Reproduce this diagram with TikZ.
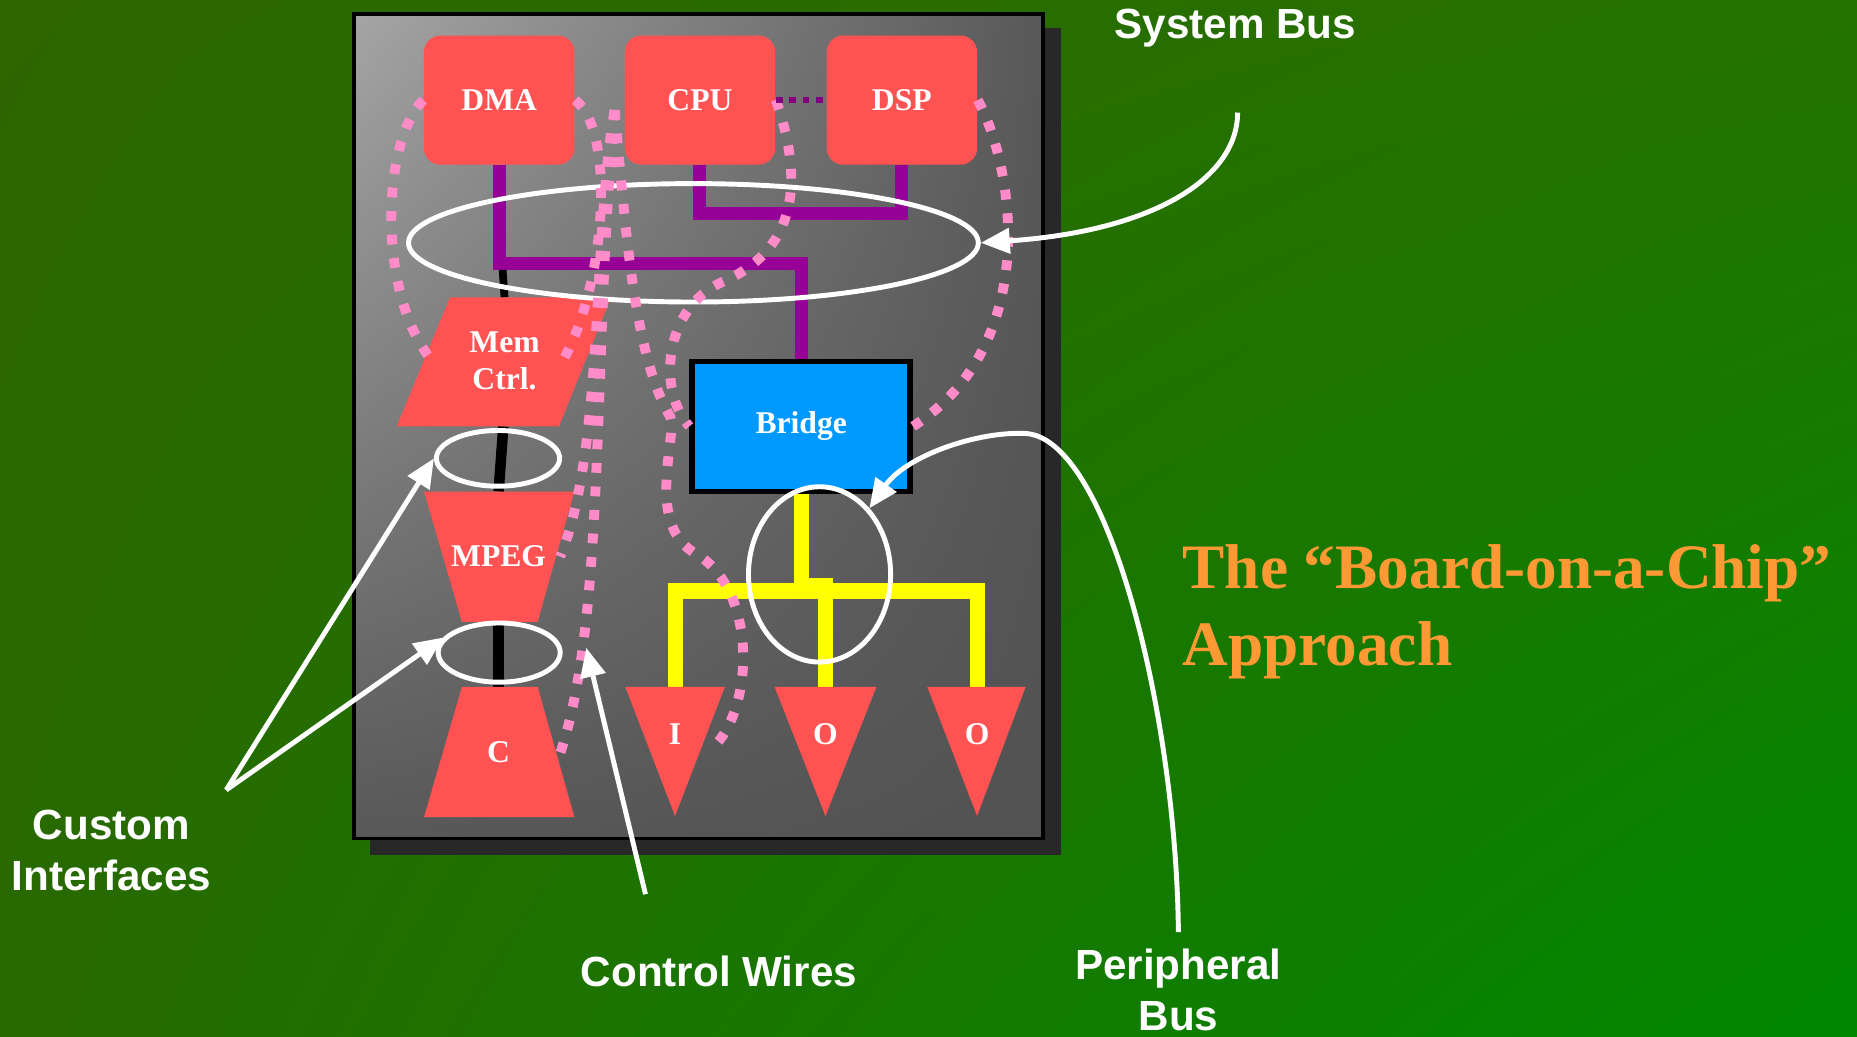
\documentclass[tikz,border=0pt]{standalone}
\usepackage{fontspec}
\setmainfont{Liberation Serif}
\newfontfamily\notefont{Liberation Sans}
\usepackage{xcolor}
\usepackage{tikz}
\usetikzlibrary{arrows.meta,shapes.geometric,shadings,positioning,calc}

\definecolor{bgul}{RGB}{46,102,0}
\definecolor{bgur}{RGB}{36,114,0}
\definecolor{bgll}{RGB}{40,106,0}
\definecolor{bglr}{RGB}{0,136,0}
\definecolor{dieul}{RGB}{165,165,165}
\definecolor{dieur}{RGB}{88,88,88}
\definecolor{diell}{RGB}{88,88,88}
\definecolor{dielr}{RGB}{82,82,82}
\definecolor{dieshadow}{RGB}{40,40,40}
\definecolor{blockred}{RGB}{255,82,82}
\definecolor{bridgeblue}{RGB}{0,153,255}
\definecolor{buspurple}{RGB}{150,0,150}
\definecolor{dotpurple}{RGB}{128,0,128}
\definecolor{busyellow}{RGB}{255,255,0}
\definecolor{wirepink}{RGB}{255,140,200}
\definecolor{titleorange}{RGB}{255,153,51}

\pgfdeclarelayer{back}
\pgfdeclarelayer{wires}
\pgfsetlayers{back,wires,main}

\tikzset{
  chipblock/.style={fill=blockred, rounded corners=4.7pt, minimum width=1.504cm,
    minimum height=1.291cm, inner sep=0pt, text=white,
    font=\bfseries\fontsize{9}{10.5}\selectfont},
  bridgebox/.style={fill=bridgeblue, draw=black, line width=1.6pt, minimum width=2.18cm,
    minimum height=1.30cm, inner sep=0pt, text=white,
    font=\bfseries\fontsize{9}{10.5}\selectfont},
  blocklabel/.style={inner sep=0pt, text=white, font=\bfseries\fontsize{9}{10.5}\selectfont},
  ring/.style={ellipse, draw=white, line width=1.4pt, inner sep=0pt},
  sysbus/.style={draw=buspurple, line width=3.7pt},
  perbus/.style={draw=busyellow, line width=4.3pt},
  localwire/.style={draw=black, line width=3pt},
  ctrlwire/.style={draw=wirepink, line width=2.8pt, dash pattern=on 2.8pt off 3.9pt},
  callout/.style={draw=white, line width=1.4pt, -{Triangle[length=2.9mm,width=2.5mm]}},
  notelabel/.style={inner sep=0pt, text=white, font=\notefont\bfseries\fontsize{12}{14.4}\selectfont},
  titlelabel/.style={inner sep=0pt, text=titleorange, font=\bfseries\fontsize{18}{21.6}\selectfont}
}

\begin{document}
\begin{tikzpicture}[x=0.011843cm, y=-0.011843cm]
\useasboundingbox (0,0) rectangle (1568,875);
% slide background and the die
\begin{pgfonlayer}{back}
\shade[upper left=bgul, upper right=bgur, lower left=bgll, lower right=bglr] (0,0) rectangle (1568,875);
\fill[dieshadow] (312,24) rectangle (896,722);
\shade[upper left=dieul, upper right=dieur, lower left=diell, lower right=dielr] (299,12) rectangle (881,708);
\draw[black, line width=1.1pt] (299,12) rectangle (881,708);
\end{pgfonlayer}

% processors and bridge
\node[chipblock] (dma) at (421.5,84.5) {DMA};
\node[chipblock] (cpu) at (591,84.5) {CPU};
\node[chipblock] (dsp) at (761.5,84.5) {DSP};
\node[bridgebox] (bridge) at (676.5,360) {Bridge};

% custom blocks
\fill[blockred] (380,251) -- (516,251) -- (472,360) -- (335,360) -- cycle;
\node[blocklabel, align=center] (mem) at (426,305) {Mem\\Ctrl.};
\fill[blockred] (358,415) -- (485,415) -- (454,525) -- (390,525) -- cycle;
\node[blocklabel] (mpeg) at (421,470) {MPEG};
\fill[blockred] (390,580) -- (454,580) -- (485,690) -- (358,690) -- cycle;
\node[blocklabel] (cc) at (421,635) {C};

% peripherals
\fill[blockred] (528,580) -- (612,580) -- (570,689) -- cycle;
\node[blocklabel] (tI) at (570,620) {I};
\fill[blockred] (654,580) -- (740,580) -- (697,689) -- cycle;
\node[blocklabel] (tO1) at (697,620) {O};
\fill[blockred] (783,580) -- (866,580) -- (825,689) -- cycle;
\node[blocklabel] (tO2) at (825,620) {O};

% wire end points
\coordinate (dmaJoint) at (424,222);
\coordinate (memN) at (426,251);
\coordinate (memS) at (425,360);
\coordinate (mpegN) at (421,415);
\coordinate (mpegS) at (421,525);
\coordinate (cN) at (421,580);
\coordinate (iN) at (570,580);
\coordinate (o1N) at (697,580);
\coordinate (o2N) at (825,580);

% buses
\begin{pgfonlayer}{wires}
\draw[localwire, line width=2.2pt] (dmaJoint) -- (memN);
\draw[localwire] (memS) -- (mpegN);
\draw[localwire] (mpegS) -- (cN);
\draw[sysbus] (dma.south) -- ++(0,83) -| (bridge.north);
\draw[sysbus] (cpu.south) -- ++(0,41) -| (dsp.south);
\draw[perbus] (iN) -- ++(0,-81) -| (o2N);
\draw[perbus] (bridge.south) -- ++(0,77) -| (o1N);
\end{pgfonlayer}

% bus rings
\node[ring, minimum width=5.697cm, minimum height=1.184cm] (sysring) at (585.5,205) {};
\node[ring, minimum width=1.232cm, minimum height=0.557cm] (ring1) at (420.5,387) {};
\node[ring, minimum width=1.220cm, minimum height=0.592cm] (ring2) at (421.5,551) {};
\node[ring, minimum width=1.421cm, minimum height=1.753cm] (perring) at (692,485) {};

% control wires
\coordinate (cpuWl) at (519,93);
\coordinate (memW) at (366,306);
\coordinate (memE) at (475,305);
\coordinate (mpegE) at (473,470);
\coordinate (cE) at (473,636);
\coordinate (iE) at (600,633);
\draw[ctrlwire] (dma.west) .. controls (322,120) and (318,250) .. (memW);
\draw[ctrlwire] (dma.east) .. controls (520,110) and (512,240) .. (memE);
\draw[ctrlwire] (cpuWl) .. controls (500,200) and (510,380) .. (mpegE);
\draw[ctrlwire] (cpuWl) .. controls (500,300) and (512,520) .. (cE);
\draw[ctrlwire] (cpuWl) .. controls (528,190) and (535,300) .. (566,352)
  .. controls (572,368) and (545,440) .. (585,466)
  .. controls (640,495) and (638,600) .. (iE);
\draw[ctrlwire] (cpu.east) .. controls (678,150) and (675,210) .. (610,238)
  .. controls (560,260) and (555,330) .. (bridge.west);
\draw[ctrlwire] (dsp.east) .. controls (856,140) and (880,290) .. (bridge.east);
\draw[dotpurple, line width=1.9pt, dash pattern=on 1.9pt off 1.9pt] (cpu.east) -- (dsp.west);

% callouts
\coordinate (sbtail) at (1045,95);
\coordinate (citail) at (191,667);
\coordinate (cwtail) at (545,755);
\coordinate (cwtip) at (495,547);
\coordinate (pbtail) at (995,787);
\draw[callout] (sbtail) .. controls (1045,150) and (975,195) .. (sysring.east);
\draw[callout] (citail) -- (ring1.west);
\draw[callout] (citail) -- (ring2.165);
\draw[callout] (cwtail) -- (cwtip);
\draw[callout] (pbtail) .. controls (993,600) and (935,370) .. (866,366)
  .. controls (825,364) and (765,385) .. (perring.53);

% labels
\node[notelabel] (sblabel) at (1043,24) {System Bus};
\node[notelabel, align=center] (cilabel) at (94,718) {Custom\\Interfaces};
\node[notelabel] (cwlabel) at (607,820) {Control Wires};
\node[notelabel, align=center] (pblabel) at (995,836) {Peripheral\\Bus};
\node[titlelabel, anchor=base west] (title1) at (998,497) {The “Board-on-a-Chip”};
\node[titlelabel, anchor=base west] (title2) at (998,562) {Approach};
\end{tikzpicture}
\end{document}
